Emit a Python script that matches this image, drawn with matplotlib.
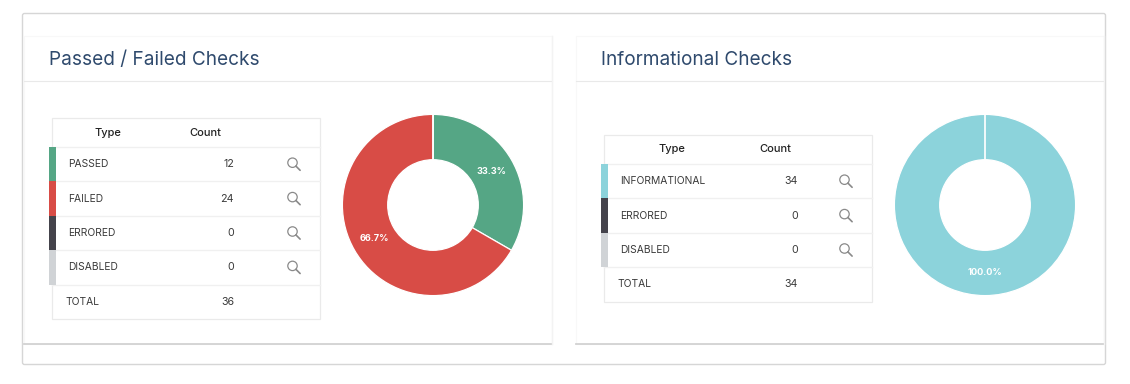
import matplotlib
matplotlib.use("Agg")
from matplotlib import pyplot as plt
from matplotlib.patches import Circle, FancyBboxPatch, Rectangle

plt.rcParams["font.family"] = ["Inter", "DejaVu Sans"]

W, H = 1130, 384

title_left = "Passed / Failed Checks"
types_left = ["PASSED", "FAILED", "ERRORED", "DISABLED"]
counts_left = [12, 24, 0, 0]
colors_left = ["#55A685", "#D84C46", "#44434B", "#D0D3D6"]

title_right = "Informational Checks"
types_right = ["INFORMATIONAL", "ERRORED", "DISABLED"]
counts_right = [34, 0, 0]
colors_right = ["#8CD3DB", "#44434B", "#D0D3D6"]

LINE = "#F0F0F0"
TEXT = "#3A3A3A"


def magnifier(ax, x, y):
    # x, y is the middle of the lens
    ax.add_patch(Circle((x, y), 4.7, fill=False, ec="#8A8A8A", lw=0.9))
    ax.plot([x + 3.4, x + 7.6], [y + 3.4, y + 7.6], color="#8A8A8A", lw=1.2, solid_capstyle="round")


def card(ax, x0, x1, title):
    ax.add_patch(Rectangle((x0, 36), x1 - x0, 308, fc="white", ec="#F8F8F8", lw=0.8))
    ax.plot([x0, x1], [81, 81], color="#E9E9E9", lw=0.8)
    ax.plot([x0, x1], [344, 344], color="#D2D2D2", lw=1.3)
    ax.plot([x1, x1], [36, 344], color="#F3F3F3", lw=1.0)
    ax.text(x0 + 25, 60, title, fontsize=13.7, color="#2F4A6D", va="center", ha="left")


def table(ax, x0, y0, types, counts, colors, type_x, count_x, value_x):
    x1 = x0 + 268
    header_h = 29
    row_h = 34.4
    n = len(types)
    y_end = y0 + header_h + row_h * (n + 1)
    ax.add_patch(Rectangle((x0, y0), x1 - x0, y_end - y0, fc="white", ec="#EAEAEA", lw=0.9))
    ax.text(type_x, y0 + 14.5, "Type", fontsize=8, color="#222222", ha="center", va="center", fontweight="medium")
    ax.text(count_x, y0 + 14.5, "Count", fontsize=8, color="#222222", ha="center", va="center", fontweight="medium")

    for i, name in enumerate(types):
        top = y0 + header_h + row_h * i
        mid = top + row_h / 2
        ax.plot([x0, x1], [top, top], color=LINE, lw=1.0)
        ax.add_patch(Rectangle((x0 - 3.5, top), 7.5, row_h, fc=colors[i], ec="none", zorder=3))
        ax.text(x0 + 16, mid, name, fontsize=7.4, color=TEXT, ha="left", va="center")
        ax.text(value_x, mid, str(counts[i]), fontsize=7.7, color=TEXT, ha="right", va="center")
        magnifier(ax, x0 + 240.5, mid - 1.5)

    top = y0 + header_h + row_h * n
    ax.plot([x0, x1], [top, top], color=LINE, lw=1.0)
    ax.text(x0 + 13, top + row_h / 2, "TOTAL", fontsize=7.4, color=TEXT, ha="left", va="center")
    ax.text(value_x, top + row_h / 2, str(sum(counts)), fontsize=7.7, color=TEXT, ha="right", va="center")


def donut(fig, cx, cy, counts, colors):
    r = 91.5
    ax = fig.add_axes([(cx - r) / W, 1 - (cy + r) / H, 2 * r / W, 2 * r / H])
    ax.pie(
        counts,
        colors=colors,
        startangle=90,
        counterclock=False,
        radius=1,
        autopct=lambda p: f"{p:.1f}%" if p > 0 else "",
        pctdistance=0.745,
        wedgeprops={"width": 0.5, "edgecolor": "white", "linewidth": 0.9},
        textprops={"color": "white", "fontsize": 6.6, "fontweight": "bold"},
    )
    ax.set_xlim(-1.01, 1.01)
    ax.set_ylim(-1.01, 1.01)


fig = plt.figure(figsize=(W / 100, H / 100), dpi=100, facecolor="white")
ax = fig.add_axes([0, 0, 1, 1])
ax.set_xlim(0, W)
ax.set_ylim(H, 0)
ax.axis("off")

ax.add_patch(FancyBboxPatch((22.5, 13.5), 1083, 351, boxstyle="round,pad=0,rounding_size=2", fc="white", ec="#D6D6D6", lw=1.0))

card(ax, 24, 552, title_left)
card(ax, 576, 1104, title_right)
table(ax, 52, 118, types_left, counts_left, colors_left, 108, 205, 234)
table(ax, 604, 135, types_right, counts_right, colors_right, 672, 775, 798)
donut(fig, 433, 205, counts_left, colors_left)
donut(fig, 985, 205, counts_right, colors_right)

fig.savefig("out.png", dpi=100)
